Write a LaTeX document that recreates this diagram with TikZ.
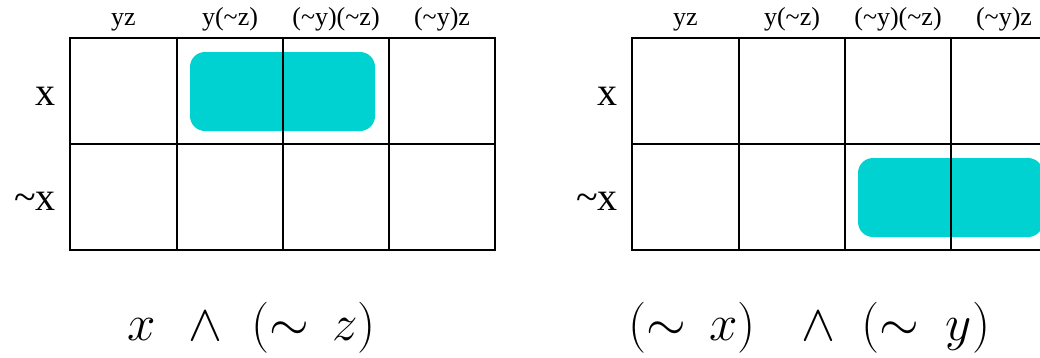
\documentclass[tikz,border=0pt]{standalone}
\usepackage{fontspec}
\usepackage{graphicx}
\newfontfamily\lbl{Liberation Serif}
\definecolor{kmapcyan}{RGB}{0,210,210}
\newcommand{\bigformula}[1]{\scalebox{2.05}{\Huge $#1$}}
\tikzset{
  gridline/.style={line width=1.3pt, black},
  blob/.style={fill=kmapcyan, draw=none, rounded corners=15pt},
  collabel/.style={font=\lbl\fontsize{26}{30}\selectfont, anchor=base, inner sep=0pt},
  rowlabel/.style={font=\lbl\fontsize{40}{46}\selectfont, anchor=base east, inner sep=0pt},
  formula/.style={anchor=base west, inner sep=0pt}
}
\begin{document}
\begin{tikzpicture}[x=1pt,y=-1pt]
\useasboundingbox (0,0) rectangle (1040,357);
\clip (0,0) rectangle (1040,357);
% ---- left map ----
\fill[blob] (190,52) rectangle (375,131);
\draw[gridline] (70,38) rectangle (495,250);
\draw[gridline] (70,144) -- (495,144);
\foreach \c in {177,283,389} \draw[gridline] (\c,38) -- (\c,250);
\node[collabel] (l1) at (123.5,25) {yz};
\node[collabel] (l2) at (230,25) {y(\textasciitilde z)};
\node[collabel] (l3) at (336,25) {(\textasciitilde y)(\textasciitilde z)};
\node[collabel] (l4) at (442,25) {(\textasciitilde y)z};
\node[rowlabel] (lx) at (56,105) {x};
\node[rowlabel] (lnx) at (56,210) {\textasciitilde x};
\node[formula] (lf) at (127,340) {\bigformula{x\ \hspace{3pt}\wedge\ \hspace{1pt}(\sim\hspace{4.5pt} z)}};
% ---- right map ----
\fill[blob] (858,158) rectangle (1043,237);
\draw[gridline] (632,38) rectangle (1057,250);
\draw[gridline] (632,144) -- (1057,144);
\foreach \c in {739,845,951} \draw[gridline] (\c,38) -- (\c,250);
\node[collabel] (r1) at (685.5,25) {yz};
\node[collabel] (r2) at (792,25) {y(\textasciitilde z)};
\node[collabel] (r3) at (898,25) {(\textasciitilde y)(\textasciitilde z)};
\node[collabel] (r4) at (1004,25) {(\textasciitilde y)z};
\node[rowlabel] (rx) at (618,105) {x};
\node[rowlabel] (rnx) at (618,210) {\textasciitilde x};
\node[formula] (rf) at (628,340) {\bigformula{(\sim\hspace{4.5pt} x)\hspace{17pt}\wedge\hspace{7pt}(\sim\hspace{6pt} y)}};
\end{tikzpicture}
\end{document}
